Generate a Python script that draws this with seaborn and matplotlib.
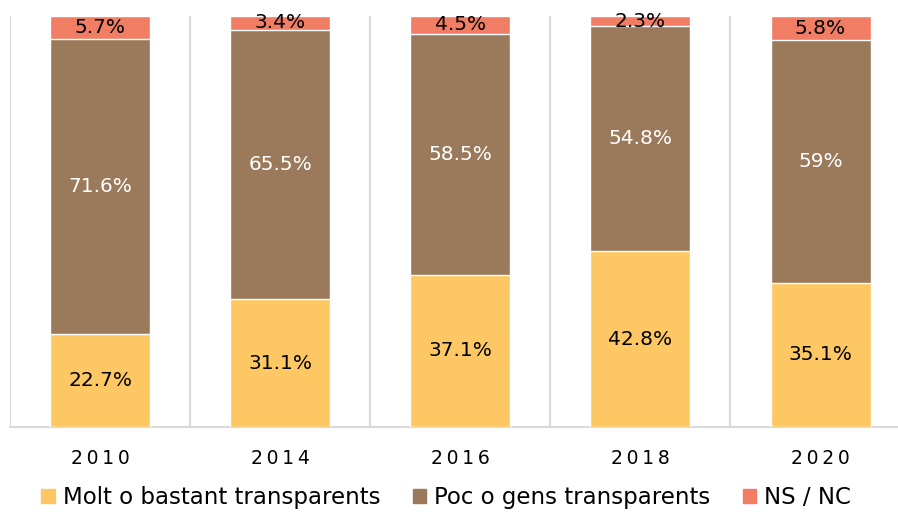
import seaborn as sns
import matplotlib.pyplot as plt
import pandas as pd
import numpy as np
from matplotlib.patches import Patch

# =============================================================================
# Data
years     = ['2010', '2014', '2016', '2018', '2020']
molt      = [22.7, 31.1, 37.1, 42.8, 35.1]
poc       = [71.6, 65.5, 58.5, 54.8, 59.0]
nsnc      = [5.7, 3.4, 4.5, 2.3, 5.8]
poc_lbls  = ['71.6%', '65.5%', '58.5%', '54.8%', '59%']
series    = ['Molt o bastant transparents', 'Poc o gens transparents', 'NS / NC']

colMolt = '#FDC864'
colPoc  = '#9A7A5B'
colNs   = '#F07D64'
colGrid = '#D9D9D9'

# =============================================================================
sns.set_style('white')
plt.rcParams['font.family'] = ['DejaVu Sans']
plt.rcParams['text.color'] = 'black'
plt.rcParams['xtick.color'] = 'black'

df = pd.DataFrame({'year': years, 'molt': molt, 'poc': poc, 'ns': nsnc})
df['cum2'] = df['molt'] + df['poc']
df['cum3'] = df['cum2'] + df['ns']

fig = plt.figure(figsize=(8.98, 5.12), dpi=100)
ax = fig.add_axes([10/898, 85/512, 1 - 10/898, 411/512])

bw = 100/180
sns.barplot(data=df, x='year', y='cum3', color=colNs, width=bw, saturation=1, ax=ax, zorder=2)
sns.barplot(data=df, x='year', y='cum2', color=colPoc, width=bw, saturation=1, ax=ax, zorder=3)
sns.barplot(data=df, x='year', y='molt', color=colMolt, width=bw, saturation=1, ax=ax, zorder=4)

# labels
fs = 14.5
for i in range(len(years)):
     ax.text(i, molt[i]/2, f'{molt[i]}%', ha='center', va='center', fontsize=fs, color='black', zorder=5)
     ax.text(i, molt[i] + poc[i]/2, poc_lbls[i], ha='center', va='center', fontsize=fs, color='white', zorder=5)
     ax.text(i, molt[i] + poc[i] + nsnc[i]/2, f'{nsnc[i]}%', ha='center', va='center', fontsize=fs, color='black', zorder=5)

# vertical separators
for xv in np.arange(-0.5, len(years) - 0.5, 1.0):
     ax.axvline(xv, color=colGrid, lw=1.5, zorder=1)

ax.set_xlim(-0.5, 4.43)
ax.set_ylim(0, 100)
ax.set_yticks([])
ax.set_xlabel('')
ax.set_ylabel('')
for s in ['top', 'right', 'left']:
     ax.spines[s].set_visible(False)
ax.spines['bottom'].set_color(colGrid)
ax.spines['bottom'].set_linewidth(1.5)
ax.tick_params(axis='x', length=0, pad=16, labelcolor='black')
ax.set_xticks(range(len(years)))
ax.set_xticklabels(['\u2009'.join(y) for y in years], fontsize=13.5)

handles = [Patch(color=colMolt), Patch(color=colPoc), Patch(color=colNs)]
leg = fig.legend(handles, series, loc='center', bbox_to_anchor=(0.497, 0.028), ncol=3, frameon=False,
           fontsize=16.5, handlelength=0.6, handleheight=0.6, handletextpad=0.35, columnspacing=1.4)
for t in leg.get_texts():
     t.set_color('black')

plt.savefig('out.png', dpi=100)
plt.close('all')
